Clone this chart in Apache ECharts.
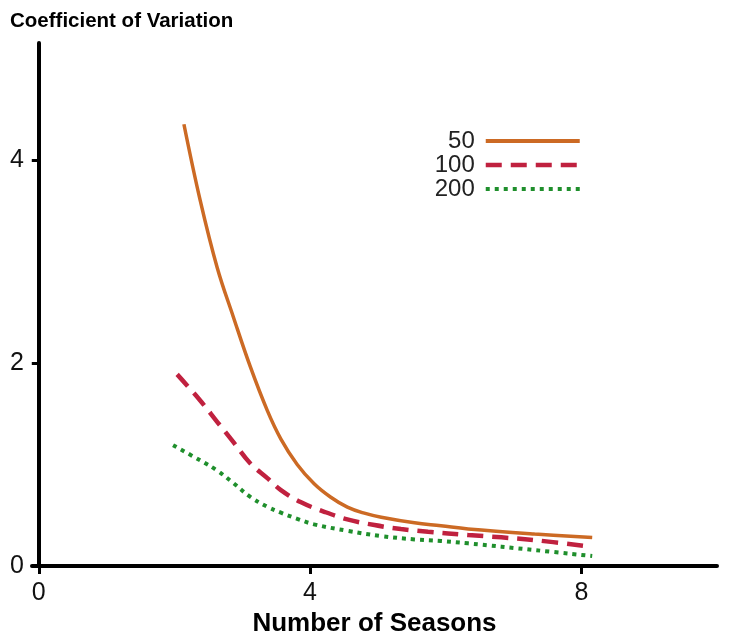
<!DOCTYPE html>
<html><head><meta charset="utf-8">
<script src="https://cdn.jsdelivr.net/npm/echarts@6/dist/echarts.min.js"></script>
<style>html,body{margin:0;padding:0;background:#fff}#c{width:741px;height:636px}</style>
</head><body><div id="c"></div>
<script>
const seriesNames = ['50', '100', '200'];
const xTicks = [0, 4, 8];
const yTicks = [0, 2, 4];
const s50x = [2.14, 2.38, 2.63, 2.87, 3.12, 3.37, 3.57, 3.81, 4.06, 4.30, 4.55, 4.80, 5.05, 5.54, 5.93, 6.33, 7.31, 8.16];
const s50y = [4.35, 3.60, 2.94, 2.45, 1.96, 1.53, 1.25, 1.00, 0.81, 0.68, 0.58, 0.52, 0.48, 0.425, 0.396, 0.365, 0.315, 0.28];
const s100x = [2.04, 2.38, 2.63, 2.87, 3.12, 3.37, 3.57, 3.86, 4.21, 4.55, 4.95, 5.34, 5.74, 6.33, 6.82, 7.31, 8.15];
const s100y = [1.887, 1.63, 1.42, 1.22, 1.01, 0.865, 0.747, 0.63, 0.534, 0.459, 0.403, 0.364, 0.337, 0.305, 0.282, 0.255, 0.19];
const s200x = [1.98, 2.38, 2.63, 2.87, 3.12, 3.37, 3.57, 3.81, 4.06, 4.55, 5.05, 5.54, 5.93, 6.33, 7.31, 8.16];
const s200y = [1.19, 1.04, 0.94, 0.816, 0.68, 0.583, 0.525, 0.465, 0.41, 0.347, 0.295, 0.262, 0.246, 0.223, 0.157, 0.098];

const colors = ['#CC6A24', '#C0213F', '#1F8F2C'];
const zip = (xs, ys) => xs.map((x, i) => [x, ys[i]]);
const font = '"Liberation Sans", Arial, Helvetica, sans-serif';
const chart = echarts.init(document.getElementById('c'), null, {renderer: 'canvas'});
chart.setOption({
  animation: false,
  backgroundColor: '#fff',
  title: {
    text: 'Coefficient of Variation', left: 5, top: 6,
    textStyle: {fontFamily: font, fontWeight: 'bold', fontSize: 20.5, color: '#000'}
  },
  legend: {
    orient: 'vertical', right: 154, top: 124, align: 'right',
    itemWidth: 94, itemHeight: 14, itemGap: 0,
    itemStyle: {opacity: 0},
    textStyle: {fontFamily: font, fontSize: 24, color: '#222', padding: [0, 6, 0, 0]},
    data: [
      {name: seriesNames[0], lineStyle: {width: 4, color: colors[0]}},
      {name: seriesNames[1], lineStyle: {width: 4.5, color: colors[1], type: [16, 9]}},
      {name: seriesNames[2], lineStyle: {width: 4, color: colors[2], type: [4, 5]}}
    ]
  },
  grid: {left: 32, right: 24, top: 43, bottom: 70, outerBoundsMode: 'none', containLabel: false},
  xAxis: {
    type: 'value', min: -0.1, max: 10,
    name: 'Number of Seasons', nameLocation: 'middle', nameGap: 44,
    nameTextStyle: {fontFamily: font, fontWeight: 'bold', fontSize: 26, color: '#000'},
    axisLine: {lineStyle: {color: '#000', width: 4}},
    axisTick: {show: true, length: 8, lineStyle: {width: 3, color: '#000'}, customValues: xTicks},
    axisLabel: {fontFamily: font, fontSize: 25, color: '#111', margin: 15, customValues: xTicks},
    splitLine: {show: false}
  },
  yAxis: {
    type: 'value', min: 0, max: 5.15,
    axisLine: {show: true, onZero: true, lineStyle: {color: '#000', width: 4}},
    axisTick: {show: true, length: 7, lineStyle: {width: 3, color: '#000'}, customValues: yTicks},
    axisLabel: {fontFamily: font, fontSize: 25, color: '#111', margin: 8, customValues: yTicks},
    splitLine: {show: false}
  },
  series: [
    {name: seriesNames[0], type: 'line', data: zip(s50x, s50y), smooth: 0.4, showSymbol: false, symbol: 'none',
     lineStyle: {color: colors[0], width: 3.5}, itemStyle: {color: colors[0]}},
    {name: seriesNames[1], type: 'line', data: zip(s100x, s100y), smooth: 0.4, showSymbol: false, symbol: 'none',
     lineStyle: {color: colors[1], width: 4.5, type: [16, 9]}, itemStyle: {color: colors[1]}},
    {name: seriesNames[2], type: 'line', data: zip(s200x, s200y), smooth: 0.4, showSymbol: false, symbol: 'none',
     lineStyle: {color: colors[2], width: 4, type: [4, 5]}, itemStyle: {color: colors[2]}}
  ]
});
</script></body></html>
